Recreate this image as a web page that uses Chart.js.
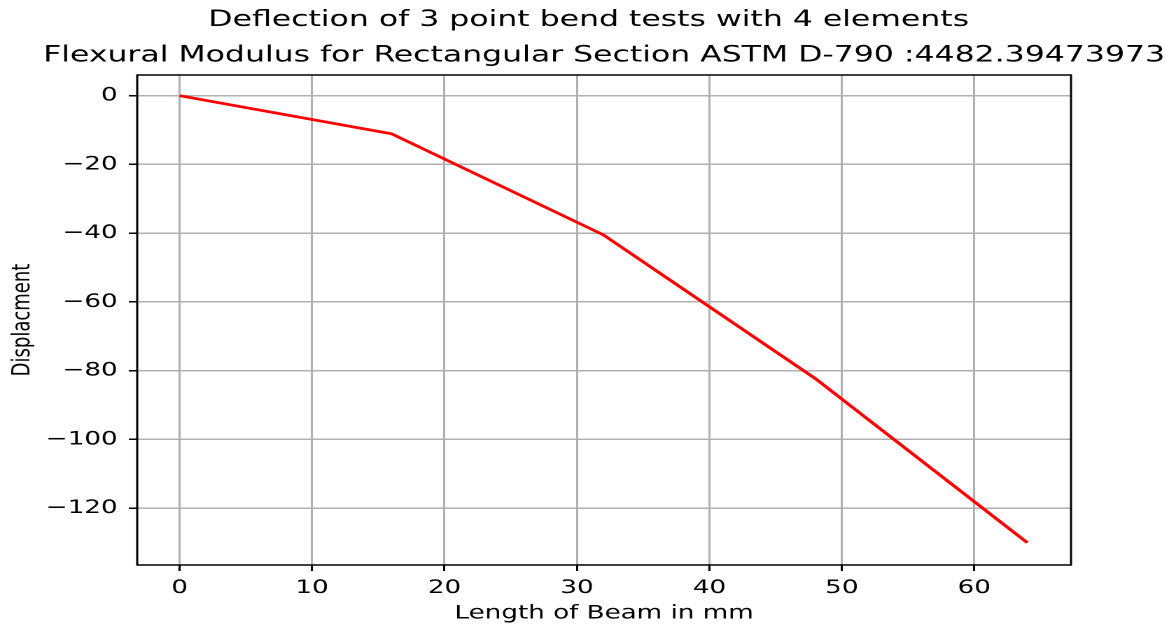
<!DOCTYPE html>
<html>
<head>
<meta charset="utf-8">
<title>Deflection of 3 point bend tests</title>
<script src="https://cdn.jsdelivr.net/npm/chart.js@4/dist/chart.umd.min.js"></script>
<style>
  html, body { margin: 0; padding: 0; background: #fff; overflow: hidden; }
  /* the reference figure is stretched sideways, so draw narrow and widen */
  #wrap { width: 832px; height: 625px; transform: scaleX(1.4); transform-origin: 0 0; }
</style>
</head>
<body>
<div id="wrap"><canvas id="chart"></canvas></div>
<script>
// data
const beamLength = [0, 16, 32, 48, 64];
const displacement = [0, -11.1, -40.5, -82.3, -130];

const xTicks = [0, 10, 20, 30, 40, 50, 60];
const yTicks = [0, -20, -40, -60, -80, -100, -120];

const titleLines = [
  'Deflection of 3 point bend tests with 4 elements',
  'Flexural Modulus for Rectangular Section ASTM D-790 :4482.39473973'
];

const FONT = '"DejaVu Sans", sans-serif';
const GRID = '#b0b0b0';
const LABEL_SIZE = 18.7;

// minus sign like matplotlib
const fmt = v => (v < 0 ? '\u2212' + Math.abs(v) : String(v));

/**
 * Frame around the axes + two line title
 */
const frameAndTitle = {
  id: 'frameAndTitle',
  afterDraw(chart) {
    const { ctx, chartArea: a } = chart;
    ctx.save();
    ctx.strokeStyle = '#000';
    ctx.lineWidth = 1.5;
    ctx.strokeRect(a.left, a.top, a.right - a.left, a.bottom - a.top);

    const mid = (a.left + a.right) / 2;
    ctx.fillStyle = '#000';
    ctx.font = '22.5px ' + FONT;
    ctx.textAlign = 'center';
    ctx.textBaseline = 'alphabetic';
    ctx.fillText(titleLines[0], mid - 11, 26);
    ctx.fillText(titleLines[1], mid, 61.7);
    ctx.restore();
  }
};

new Chart(document.getElementById('chart'), {
  type: 'line',
  data: {
    datasets: [{
      data: beamLength.map((x, i) => ({ x, y: displacement[i] })),
      borderColor: '#ff0000',
      borderWidth: 2.7,
      pointRadius: 0,
      fill: false,
      tension: 0
    }]
  },
  options: {
    responsive: true,
    maintainAspectRatio: false,
    devicePixelRatio: 2,
    animation: false,
    layout: { padding: { top: 75, right: 67, left: 0, bottom: 0 } },
    plugins: {
      legend: { display: false },
      title: { display: false },
      tooltip: { enabled: false }
    },
    scales: {
      x: {
        type: 'linear',
        min: -3.2,
        max: 67.3,
        afterBuildTicks: s => { s.ticks = xTicks.map(value => ({ value })); },
        afterFit: s => { s.height = 60; },
        border: { display: false },
        grid: { color: GRID, lineWidth: 1.5, tickColor: '#000', tickWidth: 1.5, tickLength: 6 },
        ticks: { font: { family: FONT, size: LABEL_SIZE }, color: '#000', padding: 6, callback: fmt, maxRotation: 0 },
        title: {
          display: true,
          text: 'Length of Beam in mm',
          font: { family: FONT, size: LABEL_SIZE },
          color: '#000',
          padding: { top: 0, bottom: 0 }
        }
      },
      y: {
        type: 'linear',
        min: -136.5,
        max: 6,
        afterBuildTicks: s => { s.ticks = yTicks.map(value => ({ value })); },
        afterFit: s => { s.width = 98; },
        border: { display: false },
        grid: { color: GRID, lineWidth: 1.5, tickColor: '#000', tickWidth: 1.5, tickLength: 6 },
        ticks: { font: { family: FONT, size: LABEL_SIZE }, color: '#000', padding: 8, callback: fmt },
        title: {
          display: true,
          text: 'Displacment',
          font: { family: FONT, size: 18 },
          color: '#000',
          padding: { top: 5.5, bottom: 0 }
        }
      }
    }
  },
  plugins: [frameAndTitle]
});
</script>
</body>
</html>
